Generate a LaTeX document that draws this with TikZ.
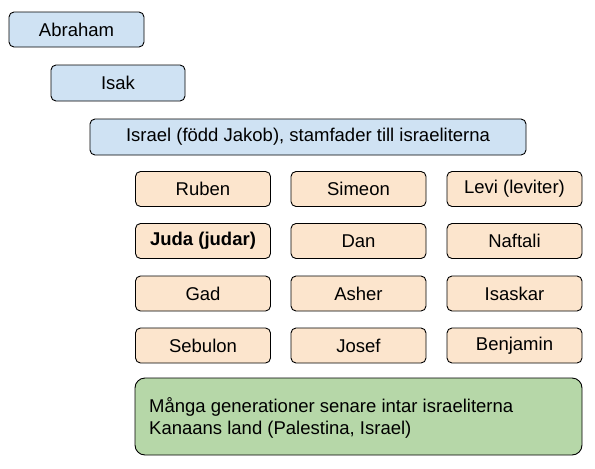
\documentclass[tikz,border=0pt]{standalone}
\usepackage{fontspec}
\setmainfont{Liberation Sans}
\definecolor{bluef}{HTML}{CFE2F3}
\definecolor{orangef}{HTML}{FCE5CD}
\definecolor{greenf}{HTML}{B6D7A8}
\tikzset{
  box/.style={draw=black, line width=0.9pt, rounded corners=5pt, inner sep=0pt, font=\fontsize{18.5}{22}\selectfont},
  bluebox/.style={box, fill=bluef},
  tribe/.style={box, fill=orangef, minimum width=135pt, minimum height=35pt},
}
\begin{document}
\begin{tikzpicture}[x=1pt,y=-1pt]
\useasboundingbox (0,0) rectangle (595,469);
\node[bluebox, minimum width=135pt, minimum height=35pt] (abraham) at (76.5,29.5) {Abraham};
\node[bluebox, minimum width=134pt, minimum height=36pt] (isak) at (118,83) {Isak};
\node[bluebox, minimum width=436pt, minimum height=36pt] (israel) at (308,137) {Israel (född Jakob), stamfader till israeliterna};
\node[tribe] (ruben) at (203,189) {Ruben};
\node[tribe] (simeon) at (358.5,189) {Simeon};
\node[tribe] (levi) at (514.5,189) {Levi (leviter)};
\node[tribe] (juda) at (203,241) {\bfseries Juda (judar)};
\node[tribe] (dan) at (358.5,241) {Dan};
\node[tribe] (naftali) at (514.5,241) {Naftali};
\node[tribe] (gad) at (203,293.5) {Gad};
\node[tribe] (asher) at (358.5,293.5) {Asher};
\node[tribe] (isaskar) at (514.5,293.5) {Isaskar};
\node[tribe] (sebulon) at (203,345.5) {Sebulon};
\node[tribe] (josef) at (358.5,345.5) {Josef};
\node[tribe] (benjamin) at (514.5,345.5) {Benjamin};
\draw[box, fill=greenf, rounded corners=10pt] (135,378) rectangle (582,455);
\node[font=\fontsize{18.5}{22}\selectfont, align=left, anchor=west, inner sep=0pt] (canaan) at (149,418) {Många generationer senare intar israeliterna\\Kanaans land (Palestina, Israel)};
\end{tikzpicture}
\end{document}
